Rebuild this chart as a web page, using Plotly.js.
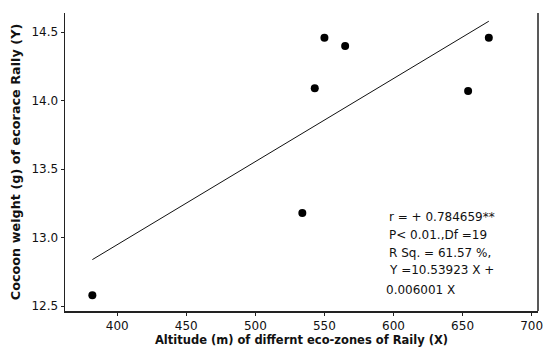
<!DOCTYPE html>
<html><head><meta charset="utf-8">
<script src="https://cdn.plot.ly/plotly-3.0.1.min.js"></script>
<style>html,body{margin:0;padding:0;background:#fff}#c{width:545px;height:352px}</style>
</head><body><div id="c"></div>
<script>
const altitude = [382, 534, 543, 550, 565, 654, 669];
const cocoonWeight = [12.58, 13.18, 14.09, 14.46, 14.40, 14.07, 14.46];
const fitX = [382, 669];
const fitY = [12.84, 14.58];
const xTicks = [400, 450, 500, 550, 600, 650, 700];
const yTicks = [12.5, 13.0, 13.5, 14.0, 14.5];
const yTickText = ["12.5", "13.0", "13.5", "14.0", "14.5"];
const statLines = ["r = + 0.784659**", "P< 0.01.,Df =19", "R Sq. = 61.57 %,", "Y =10.53923 X +", "0.006001 X"];

const font = {family: "DejaVu Sans, Verdana, sans-serif", size: 12, color: "#111"};
const traces = [
  {x: fitX, y: fitY, mode: "lines", line: {color: "#111", width: 1}, hoverinfo: "skip"},
  {x: altitude, y: cocoonWeight, mode: "markers", marker: {color: "#000", size: 8}}
];
const statY = [0.315, 0.255, 0.195, 0.138, 0.072];
const statX = [0.681, 0.681, 0.681, 0.681, 0.675];
const annotations = statLines.map((t, i) => ({
  text: t, xref: "paper", yref: "paper", x: statX[i], y: statY[i],
  xanchor: "left", yanchor: "middle", showarrow: false, font: {family: font.family, size: 12, color: "#111"}
}));
const layout = {
  width: 545, height: 352,
  margin: {l: 65, r: 7, t: 13, b: 41},
  paper_bgcolor: "#fff", plot_bgcolor: "#fff",
  showlegend: false, font: font,
  xaxis: {range: [362.2, 704.6], tickvals: xTicks, ticks: "outside", ticklen: 3, tickcolor: "#222",
    showgrid: false, zeroline: false, showline: true, linecolor: "#222", linewidth: 1.5,
    title: {text: "<b>Altitude (m) of differnt eco-zones of Raily (X)</b>", font: {family: font.family, size: 11.5, color: "#111"}, standoff: 2}},
  yaxis: {range: [12.465, 14.64], tickvals: yTicks, ticktext: yTickText, ticks: "outside", ticklen: 3, tickcolor: "#222",
    showgrid: false, zeroline: false, showline: true, linecolor: "#222", linewidth: 1.5,
    title: {text: "<b>Cocoon weight (g) of ecorace Raily (Y)</b>", font: {family: font.family, size: 12.8, color: "#111"}, standoff: 8}},
  shapes: [{type: "line", xref: "paper", yref: "paper", x0: 1, x1: 1, y0: 0, y1: 1, line: {color: "#222", width: 1.5}}],
  annotations: annotations
};
Plotly.newPlot("c", traces, layout, {displayModeBar: false, staticPlot: true});
</script></body></html>
